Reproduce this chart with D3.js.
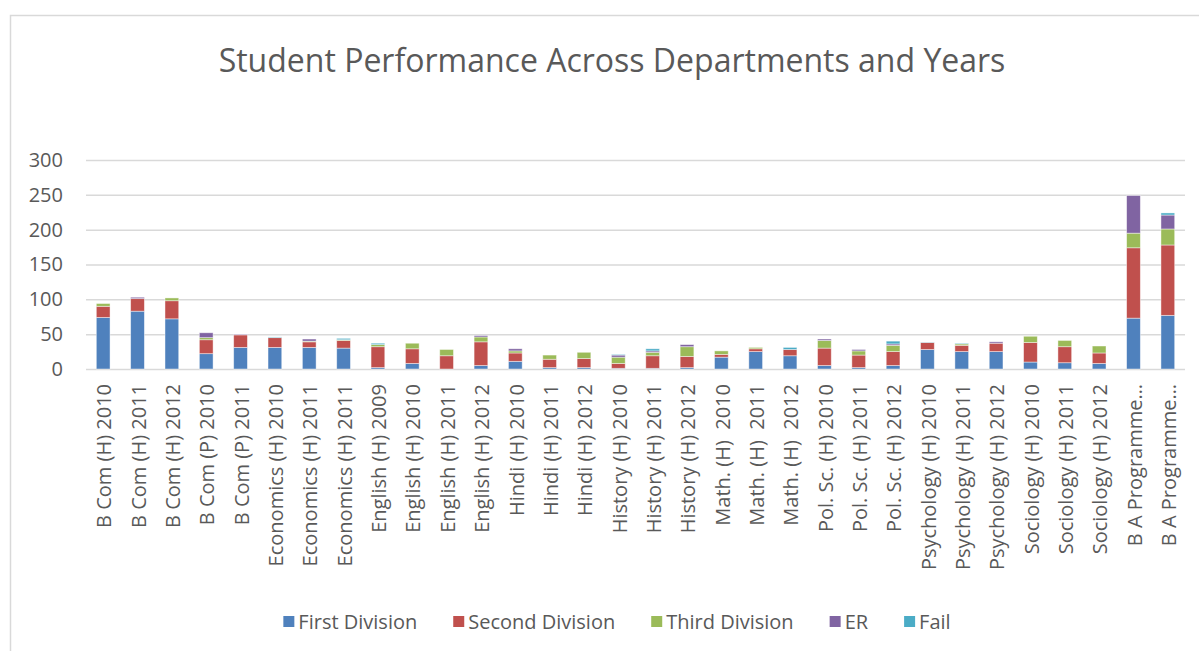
<!DOCTYPE html>
<html>
<head>
<meta charset="utf-8">
<script src="https://cdn.jsdelivr.net/npm/d3@7"></script>
<style>
  body { margin: 0; background: #fff; }
  text { font-family: "Open Sans", sans-serif; fill: #595959; }
</style>
</head>
<body>
<svg id="chart"></svg>
<script>
// categories along the x axis
const departments = [
  "B Com (H) 2010", "B Com (H) 2011", "B Com (H) 2012", "B Com (P) 2010", "B Com (P) 2011",
  "Economics (H) 2010", "Economics (H) 2011", "Economics (H) 2011", "English (H) 2009",
  "English (H) 2010", "English (H) 2011", "English (H) 2012", "Hindi (H) 2010", "Hindi (H) 2011",
  "Hindi (H) 2012", "History (H) 2010", "History (H) 2011", "History (H) 2012",
  "Math. (H)  2010", "Math. (H)  2011", "Math. (H)  2012", "Pol. Sc. (H) 2010",
  "Pol. Sc. (H) 2011", "Pol. Sc. (H) 2012", "Psychology (H) 2010", "Psychology (H) 2011",
  "Psychology (H) 2012", "Sociology (H) 2010", "Sociology (H) 2011", "Sociology (H) 2012",
  "B A Programme…", "B A Programme…"
];

// series values
const firstDivision  = [74, 83, 72, 22, 31, 31, 31, 30, 2, 8, 0, 5, 11, 2, 2, 1, 1, 2, 17, 25, 19, 5, 2, 5, 28, 25, 25, 10, 9, 8, 73, 77];
const secondDivision = [16, 18, 26, 20, 18, 14, 8, 11, 30, 21, 19, 34, 12, 12, 13, 7, 18, 16, 4, 4, 9, 25, 18, 20, 10, 9, 12, 28, 23, 15, 101, 101];
const thirdDivision  = [4, 0, 4, 3, 0, 0, 1, 1, 3, 8, 9, 7, 3, 6, 9, 9, 5, 14, 5, 2, 0, 11, 6, 9, 0, 2, 0, 9, 9, 10, 21, 23];
const er             = [0, 2, 0, 7, 1, 0, 3, 0, 0, 0, 0, 2, 3, 0, 0, 3, 2, 3, 0, 0, 0, 2, 2, 2, 0, 0, 2, 0, 0, 0, 54, 20];
const fail           = [0, 0, 0, 0, 0, 1, 0, 2, 2, 0, 0, 0, 0, 0, 0, 1, 3, 0, 0, 0, 3, 0, 0, 4, 0.5, 1, 0, 0, 0, 0, 0, 3];

const seriesNames = ["First Division", "Second Division", "Third Division", "ER", "Fail"];
const yTicks = [0, 50, 100, 150, 200, 250, 300];

const width = 1199;
const height = 651;
const marginLeft = 86;
const marginRight = 14;
const plotTop = 160;
const plotBottom = 369;

const color = d3.scaleOrdinal()
    .domain(seriesNames)
    .range(["#4F81BD", "#C0504D", "#9BBB59", "#8064A2", "#4BACC6"]);

// build rows for the stack
const table = departments.map(function (d, i) {
    return {
        key: i,
        name: d,
        "First Division": firstDivision[i],
        "Second Division": secondDivision[i],
        "Third Division": thirdDivision[i],
        "ER": er[i],
        "Fail": fail[i]
    };
});
const stacked = d3.stack().keys(seriesNames)(table);

const svg = d3.select("#chart")
    .attr("width", width)
    .attr("height", height)
    .attr("viewBox", [0, 0, width, height]);

// outer chart border
svg.append("rect")
    .attr("x", 10.5).attr("y", 15.5)
    .attr("width", 1210).attr("height", 660)
    .attr("fill", "none")
    .attr("stroke", "#d9d9d9")
    .attr("stroke-width", 1.5);

svg.append("text")
    .attr("x", 612)
    .attr("y", 72)
    .attr("text-anchor", "middle")
    .style("font-size", "32px")
    .text("Student Performance Across Departments and Years");

const x = d3.scaleBand()
    .domain(d3.range(departments.length))
    .range([marginLeft, width - marginRight])
    .paddingInner(0.6)
    .paddingOuter(0.3);

const y = d3.scaleLinear()
    .domain([0, 300])
    .range([plotBottom, plotTop]);

// gridlines + y labels
const yAxis = svg.append("g")
    .attr("transform", `translate(${marginLeft},0)`)
    .call(d3.axisLeft(y).tickValues(yTicks).tickSize(-(width - marginRight - marginLeft)).tickPadding(23));
yAxis.select(".domain").remove();
yAxis.selectAll(".tick line").attr("stroke", "#d9d9d9").attr("stroke-width", 1.5);
yAxis.selectAll(".tick text")
    .style("font-size", "20px")
    .style("font-family", "'Open Sans', sans-serif")
    .attr("fill", "#595959");

// stacked bars
svg.append("g")
    .selectAll("g")
    .data(stacked)
    .join("g")
    .attr("fill", d => color(d.key))
    .selectAll("rect")
    .data(d => d)
    .join("rect")
    .attr("x", (d, i) => x(i))
    .attr("width", x.bandwidth())
    .attr("y", d => y(d[1]))
    .attr("height", d => y(d[0]) - y(d[1]))
    .attr("stroke", "rgba(255,255,255,0.55)")
    .attr("stroke-width", 0.8);

// rotated x labels
svg.append("g")
    .selectAll("text")
    .data(departments)
    .join("text")
    .attr("transform", (d, i) => `translate(${x(i) + x.bandwidth() / 2 + 1},384) rotate(-90)`)
    .attr("text-anchor", "end")
    .attr("dy", "0.36em")
    .style("font-size", "20px")
    .style("white-space", "pre")
    .text(d => d);

// legend
const legend = svg.append("g");
var cursor = 0;
seriesNames.forEach(function (name) {
    var item = legend.append("g").attr("transform", `translate(${cursor},0)`);
    item.append("rect")
        .attr("x", 0).attr("y", -6)
        .attr("width", 11).attr("height", 11)
        .attr("fill", color(name));
    var t = item.append("text")
        .attr("x", 15).attr("y", 0)
        .attr("dy", "0.35em")
        .style("font-size", "20px")
        .text(name);
    cursor += 15 + t.node().getComputedTextLength() + 36;
});
cursor -= 36;
legend.attr("transform", `translate(${617 - cursor / 2},622)`);
</script>
</body>
</html>
